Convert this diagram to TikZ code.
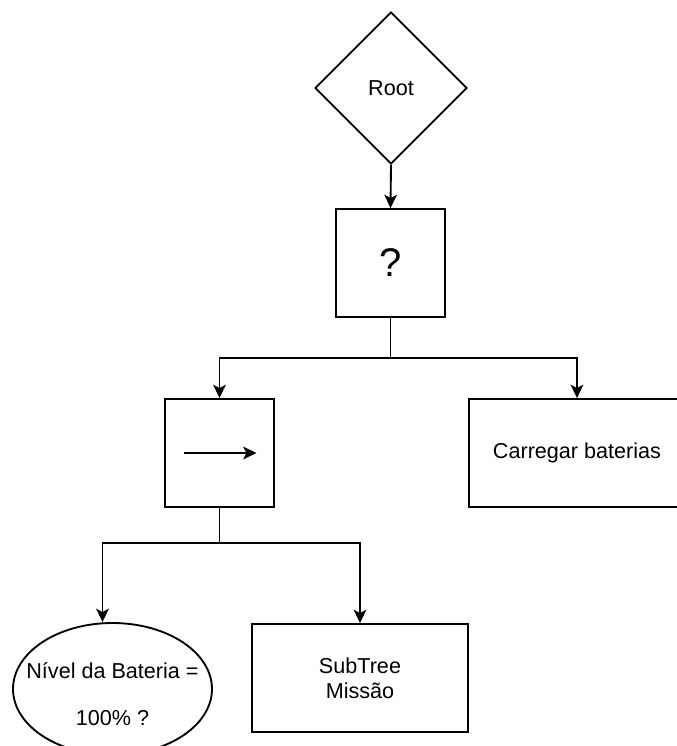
\documentclass[tikz,border=0pt]{standalone}
\usepackage{fontspec}
\setmainfont{Liberation Sans}
\usetikzlibrary{shapes.geometric,arrows.meta,calc}
\begin{document}
\begin{tikzpicture}[x=0.75pt,y=-0.75pt,
  line width=1.4pt,
  every node/.style={font=\fontsize{16.2}{19.4}\selectfont, text=black},
  flow/.style={-{Stealth[length=10pt,width=9.5pt,inset=2.5pt]}, line width=1.4pt},
  pbox/.style={draw, rectangle, inner sep=0pt, minimum width=#1, minimum height=81pt},
  decision/.style={draw, diamond, aspect=1, inner sep=0pt, minimum width=114pt, minimum height=114pt},
  condition/.style={draw, ellipse, inner sep=0pt, minimum width=149.25pt, minimum height=99pt}
]
\useasboundingbox (0,0) rectangle (677,746);

% behaviour tree nodes
\node[decision] (root) at (391,88) {Root};
\node[pbox=81.75pt, font=\fontsize{30}{36}\selectfont] (fallback) at (390.5,263) {?};
\node[pbox=81.75pt] (seq) at (219.5,453) {};
\node[pbox=162pt] (charge) at (577,453) {Carregar baterias};
\node[condition] (battery) at (112.5,689) {};
\node[align=center, font=\fontsize{16.2}{35.25}\selectfont] (batterytext) at ($(battery.center)+(0,5)$) {Nível da Bateria =\\100\% ?};
\node[pbox=162pt, align=center, font=\fontsize{16.2}{18.75}\selectfont] (mission) at (360,678) {SubTree\\Missão};

% sequence symbol
\coordinate (seqA) at ($(seq.center)+(-36,0)$);
\coordinate (seqB) at ($(seq.center)+(37,0)$);
\draw[flow] (seqA) -- (seqB);

% connectors
\draw[flow] (root.south) -- (fallback.north);
\coordinate (j1) at ($(fallback.south)+(0,40)$);
\draw (fallback.south) -- (j1);
\draw[flow] (j1) -| (seq.north);
\draw[flow] (j1) -| (charge.north);
\coordinate (j2) at ($(seq.south)+(0,35)$);
\draw (seq.south) -- (j2);
\draw[flow] (j2) -| ($(battery.north)+(-10,0)$);
\draw[flow] (j2) -| (mission.north);
\end{tikzpicture}
\end{document}
